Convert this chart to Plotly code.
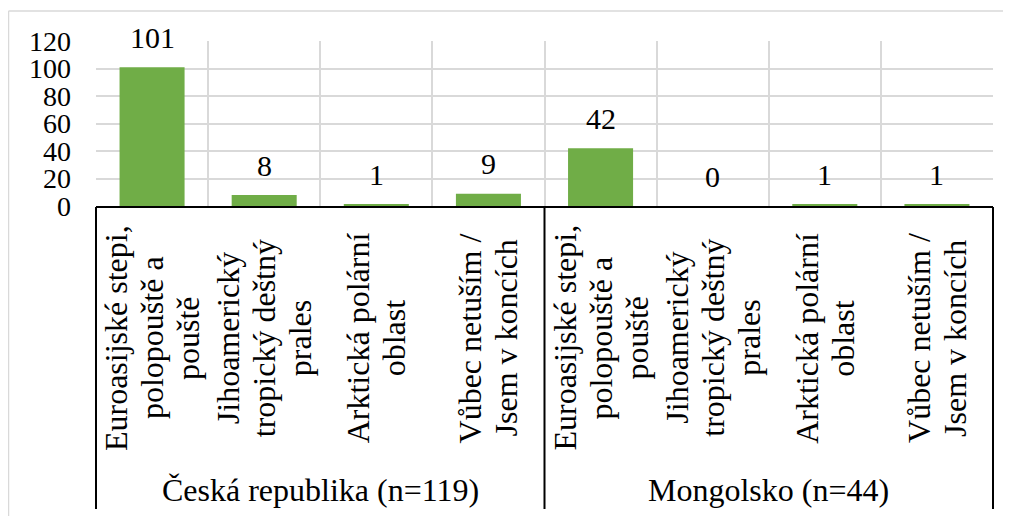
import plotly.graph_objects as go

# data
groups = ['Česká republika (n=119)', 'Mongolsko (n=44)']
categories = [
    ['Euroasijské stepi,', 'polopouště a', 'pouště'],
    ['Jihoamerický', 'tropický deštný', 'prales'],
    ['Arktická polární', 'oblast'],
    ['Vůbec netuším /', 'Jsem v koncích'],
]
counts_cz = [101, 8, 1, 9]
counts_mn = [42, 0, 1, 1]

values = counts_cz + counts_mn
labels = categories * len(groups)
xpos = list(range(len(values)))

OFF = 8  # page body margin
W, H = 1011 - OFF, 516 - OFF
L, T = 96 - OFF, 41 - OFF
R = OFF + W - 993
B = 516 - 206
plot_w = W - L - R
plot_h = H - T - B
FONT = 'Liberation Serif'
LINE_GAP = 36  # px between wrapped label lines


def py(pix):
    # screen pixel row -> paper y
    return (516 - B - pix) / plot_h


def px_(pix):
    # screen pixel column -> paper x
    return (pix - 96) / plot_w


fig = go.Figure()
fig.add_trace(go.Bar(x=xpos, y=values, width=0.58,
                     marker=dict(color='#70AD47', line=dict(width=0)),
                     hoverinfo='skip'))

annotations = []
# value labels above bars
for x, v in zip(xpos, values):
    annotations.append(dict(x=x, y=v, xref='x', yref='y', text=str(v), showarrow=False,
                            yanchor='middle', yshift=30,
                            font=dict(family=FONT, size=30, color='black')))
# rotated category labels, one annotation per wrapped line
for x, lines in zip(xpos, labels):
    n = len(lines)
    for k, line in enumerate(lines):
        annotations.append(dict(x=x, y=py(338), xref='x', yref='paper', text=line, showarrow=False,
                                textangle=-90, xanchor='center', yanchor='middle',
                                xshift=(k - (n - 1) / 2) * LINE_GAP,
                                font=dict(family=FONT, size=32, color='black')))
# group labels
for i, g in enumerate(groups):
    annotations.append(dict(x=0.25 + 0.5 * i, y=py(490), xref='paper', yref='paper', text=g,
                            showarrow=False, xanchor='center', yanchor='middle',
                            font=dict(family=FONT, size=32, color='black')))

shapes = [
    # black category box
    dict(type='line', xref='paper', yref='paper', x0=0, x1=1, y0=py(207), y1=py(207),
         line=dict(color='black', width=2)),
]
for xp in [0, 0.5, 1]:
    shapes.append(dict(type='line', xref='paper', yref='paper', x0=xp, x1=xp,
                       y0=py(207), y1=py(509), line=dict(color='black', width=2)))
# light outer chart border
shapes.append(dict(type='line', xref='paper', yref='paper', x0=px_(8.5), x1=px_(8.5),
                   y0=py(11), y1=py(520), line=dict(color='#d9d9d9', width=1.5)))
shapes.append(dict(type='line', xref='paper', yref='paper', x0=px_(8.5), x1=px_(1015),
                   y0=py(11), y1=py(11), line=dict(color='#d9d9d9', width=1.5)))

fig.update_layout(
    width=W, height=H,
    margin=dict(l=L, r=R, t=T, b=B),
    paper_bgcolor='white', plot_bgcolor='white',
    showlegend=False,
    annotations=annotations,
    shapes=shapes,
    font=dict(family=FONT, size=28, color='black'),
)
fig.update_xaxes(range=[-0.5, 7.5], tickvals=[i - 0.5 for i in range(9)],
                 showticklabels=False, showgrid=True, gridcolor='#d9d9d9', gridwidth=1.5,
                 zeroline=False, showline=False, ticks='')
fig.update_yaxes(range=[0, 120], dtick=20, showgrid=True, gridcolor='#d9d9d9', gridwidth=1.5,
                 zeroline=False, showline=False, ticks='', ticklabelstandoff=24,
                 tickfont=dict(family=FONT, size=28, color='black'))

fig.write_html('out.html')
